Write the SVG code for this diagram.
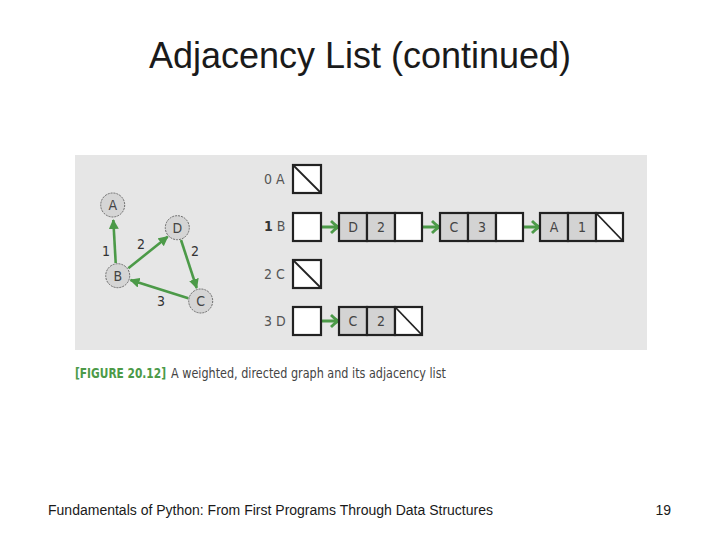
<svg xmlns="http://www.w3.org/2000/svg" width="720" height="540" viewBox="0 0 720 540">
<style>
.title{font-family:"Liberation Sans",Arial,sans-serif;font-size:36px;fill:#1a1a1a}
.foot{font-family:"Liberation Sans",Arial,sans-serif;font-size:14px;fill:#1a1a1a}
.gn circle{fill:#d5d5d5;stroke:#6a6a6a;stroke-width:1;stroke-dasharray:2 1}
.lbl{font-family:"DejaVu Sans Condensed","Liberation Sans",sans-serif;font-size:14px;fill:#444;text-anchor:middle}
.w{font-family:"DejaVu Sans Condensed","Liberation Sans",sans-serif;font-size:14px;fill:#333;text-anchor:middle}
.edge{stroke:#4c9a48;stroke-width:2.6;fill:none}
.ptr{stroke:#4c9a48;stroke-width:3;fill:none}
.cell{stroke:#222;stroke-width:2.2}
.g{fill:#d3d3d3}
.wh{fill:#fff}
.nil{stroke:#222;stroke-width:1.8}
.idx{font-family:"DejaVu Sans Condensed","Liberation Sans",sans-serif;font-size:14px;fill:#555}
.cap{font-family:"DejaVu Sans Condensed","Liberation Sans",sans-serif;font-size:14px;fill:#444}
.capg{font-family:"DejaVu Sans Condensed","Liberation Sans",sans-serif;font-size:13.5px;font-weight:bold;fill:#4c9a48}
</style>
<defs>
<marker id="tri" markerWidth="10" markerHeight="10" refX="9" refY="5" orient="auto" markerUnits="userSpaceOnUse" viewBox="0 0 10 10">
<path d="M0,0 L10,5 L0,10 Z" fill="#4c9a48"/>
</marker>
<marker id="chev" markerWidth="12" markerHeight="14" refX="10" refY="7" orient="auto" markerUnits="userSpaceOnUse" viewBox="0 0 12 14">
<path d="M3,1 Q7,5 10,7 Q7,9 3,13" fill="none" stroke="#4c9a48" stroke-width="2.8"/>
</marker>
</defs>
<rect x="0" y="0" width="720" height="540" fill="#fff"/>
<text class="title" x="360" y="68" text-anchor="middle">Adjacency List (continued)</text>
<rect x="75" y="155" width="572" height="195" fill="#e6e6e6"/>

<g id="connectors">
<line class="edge" x1="115.7" y1="263" x2="113.3" y2="220" marker-end="url(#tri)"/>
<line class="edge" x1="128.3" y1="268.3" x2="167.7" y2="236.7" marker-end="url(#tri)"/>
<line class="edge" x1="181" y1="240" x2="196.7" y2="288" marker-end="url(#tri)"/>
<line class="edge" x1="188.3" y1="298.3" x2="130.5" y2="280" marker-end="url(#tri)"/>
<line class="ptr" x1="307" y1="227" x2="338" y2="227" marker-end="url(#chev)"/>
<line class="ptr" x1="408" y1="227" x2="439" y2="227" marker-end="url(#chev)"/>
<line class="ptr" x1="508" y1="227" x2="539" y2="227" marker-end="url(#chev)"/>
<line class="ptr" x1="305" y1="321" x2="338" y2="321" marker-end="url(#chev)"/>
</g>

<g id="weights">
<text class="w" x="106" y="256">1</text>
<text class="w" x="141" y="249">2</text>
<text class="w" x="195" y="256">2</text>
<text class="w" x="161" y="306">3</text>
</g>

<g id="node-A" class="gn"><circle cx="112.7" cy="205" r="12"/><text class="lbl" x="112.7" y="210">A</text></g>
<g id="node-D" class="gn"><circle cx="177.3" cy="227.7" r="12"/><text class="lbl" x="177.3" y="232.7">D</text></g>
<g id="node-B" class="gn"><circle cx="117.7" cy="275.7" r="12"/><text class="lbl" x="117.7" y="280.7">B</text></g>
<g id="node-C" class="gn"><circle cx="200.7" cy="301" r="12"/><text class="lbl" x="200.7" y="306">C</text></g>

<g id="row-0">
<text class="idx" x="264" y="184">0 A</text>
<rect class="cell wh" x="293" y="165" width="28" height="28"/>
<line class="nil" x1="294" y1="166" x2="320" y2="192"/>
</g>
<g id="row-1">
<text class="idx" x="264" y="231"><tspan font-weight="bold" fill="#333">1</tspan> B</text>
<rect class="cell wh" x="293" y="213" width="28" height="28"/>
</g>
<g id="row-2">
<text class="idx" x="264" y="279">2 C</text>
<rect class="cell wh" x="293" y="260" width="28" height="28"/>
<line class="nil" x1="294" y1="261" x2="320" y2="287"/>
</g>
<g id="row-3">
<text class="idx" x="264" y="326">3 D</text>
<rect class="cell wh" x="293" y="307" width="28" height="28"/>
</g>

<g id="list-B-D2">
<rect class="cell g" x="339" y="213" width="28" height="28"/>
<rect class="cell g" x="367" y="213" width="28" height="28"/>
<rect class="cell wh" x="395" y="213" width="27" height="28"/>
<text class="lbl" x="353" y="232">D</text>
<text class="lbl" x="381" y="232">2</text>
</g>
<g id="list-B-C3">
<rect class="cell g" x="440" y="213" width="28" height="28"/>
<rect class="cell g" x="468" y="213" width="28" height="28"/>
<rect class="cell wh" x="496" y="213" width="27" height="28"/>
<text class="lbl" x="454" y="232">C</text>
<text class="lbl" x="482" y="232">3</text>
</g>
<g id="list-B-A1">
<rect class="cell g" x="540" y="213" width="28" height="28"/>
<rect class="cell g" x="568" y="213" width="28" height="28"/>
<rect class="cell wh" x="596" y="213" width="27" height="28"/>
<line class="nil" x1="597" y1="214" x2="622" y2="240"/>
<text class="lbl" x="554" y="232">A</text>
<text class="lbl" x="582" y="232">1</text>
</g>
<g id="list-D-C2">
<rect class="cell g" x="339" y="307" width="28" height="28"/>
<rect class="cell g" x="367" y="307" width="28" height="28"/>
<rect class="cell wh" x="395" y="307" width="27" height="28"/>
<line class="nil" x1="396" y1="308" x2="421" y2="334"/>
<text class="lbl" x="353" y="326">C</text>
<text class="lbl" x="381" y="326">2</text>
</g>

<text class="capg" x="75" y="378" textLength="91" lengthAdjust="spacingAndGlyphs">[FIGURE 20.12]</text>
<text class="cap" x="171" y="378" textLength="275" lengthAdjust="spacingAndGlyphs">A weighted, directed graph and its adjacency list</text>

<text class="foot" x="48" y="515" textLength="445" lengthAdjust="spacingAndGlyphs">Fundamentals of Python: From First Programs Through Data Structures</text>
<text class="foot" x="671" y="515" text-anchor="end">19</text>
</svg>
